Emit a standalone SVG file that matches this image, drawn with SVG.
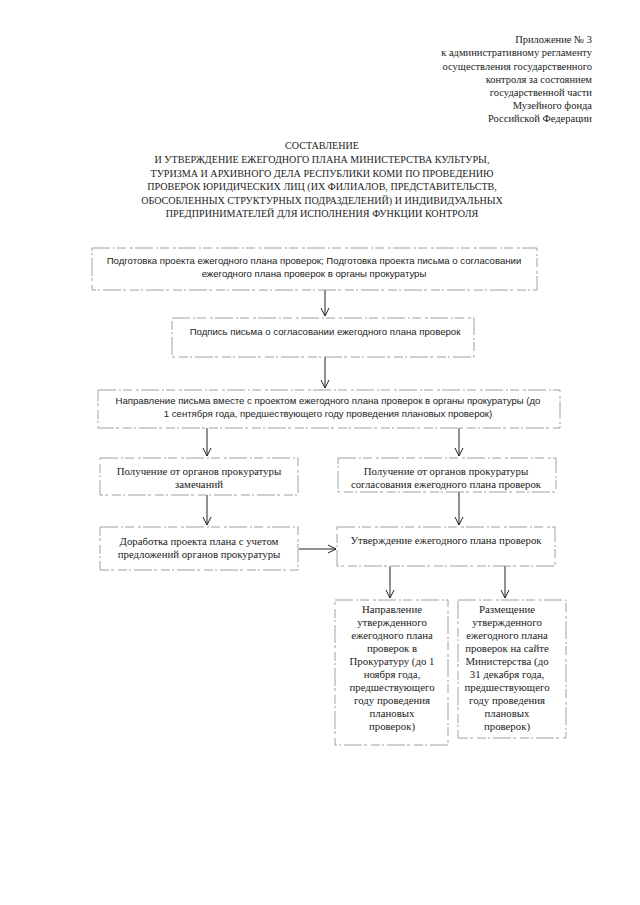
<svg xmlns="http://www.w3.org/2000/svg" width="640" height="905" viewBox="0 0 640 905">
<defs>
<style>
.hdr{font-family:"Liberation Serif","Times New Roman",serif;font-size:10.5px;fill:#222;text-anchor:end}
.ttl{font-family:"Liberation Serif","Times New Roman",serif;font-size:10.1px;fill:#222;text-anchor:middle}
.sans{font-family:"Liberation Sans",Arial,sans-serif;font-size:9.6px;fill:#222;text-anchor:middle}
.ser{font-family:"Liberation Serif","Times New Roman",serif;font-size:10.8px;fill:#222;text-anchor:middle}
.box{fill:none;stroke:#888;stroke-width:0.8;stroke-dasharray:18 3 2 2 9 4 3 2}
.con{fill:none;stroke:#222;stroke-width:1}
</style>
<marker id="arr" viewBox="-9 -5 10 10" refX="0" refY="0" markerWidth="10" markerHeight="10" markerUnits="userSpaceOnUse" orient="auto">
<path d="M-8,-4 L0,0 L-8,4" fill="none" stroke="#222" stroke-width="1"/>
</marker>
</defs>
<rect width="640" height="905" fill="#fff"/>
<g id="header">
<text class="hdr" x="592" y="43">Приложение № 3</text>
<text class="hdr" x="592" y="56">к административному регламенту</text>
<text class="hdr" x="592" y="70">осуществления государственного</text>
<text class="hdr" x="592" y="83">контроля за состоянием</text>
<text class="hdr" x="592" y="96">государственной части</text>
<text class="hdr" x="592" y="109">Музейного фонда</text>
<text class="hdr" x="592" y="122">Российской Федерации</text>
</g>
<g id="title">
<text class="ttl" x="322" y="149">СОСТАВЛЕНИЕ</text>
<text class="ttl" x="322" y="163">И УТВЕРЖДЕНИЕ ЕЖЕГОДНОГО ПЛАНА МИНИСТЕРСТВА КУЛЬТУРЫ,</text>
<text class="ttl" x="322" y="177">ТУРИЗМА И АРХИВНОГО ДЕЛА РЕСПУБЛИКИ КОМИ ПО ПРОВЕДЕНИЮ</text>
<text class="ttl" x="322" y="190">ПРОВЕРОК ЮРИДИЧЕСКИХ ЛИЦ (ИХ ФИЛИАЛОВ, ПРЕДСТАВИТЕЛЬСТВ,</text>
<text class="ttl" x="322" y="204">ОБОСОБЛЕННЫХ СТРУКТУРНЫХ ПОДРАЗДЕЛЕНИЙ) И ИНДИВИДУАЛЬНЫХ</text>
<text class="ttl" x="322" y="217">ПРЕДПРИНИМАТЕЛЕЙ ДЛЯ ИСПОЛНЕНИЯ ФУНКЦИИ КОНТРОЛЯ</text>
</g>
<g id="connectors">
<line class="con" x1="325" y1="290" x2="325" y2="316" marker-end="url(#arr)"/>
<line class="con" x1="325" y1="357" x2="325" y2="388" marker-end="url(#arr)"/>
<line class="con" x1="207" y1="428" x2="207" y2="456" marker-end="url(#arr)"/>
<line class="con" x1="459" y1="428" x2="459" y2="456" marker-end="url(#arr)"/>
<line class="con" x1="207" y1="495" x2="207" y2="525" marker-end="url(#arr)"/>
<line class="con" x1="459" y1="492" x2="459" y2="525" marker-end="url(#arr)"/>
<line class="con" x1="299" y1="549" x2="336" y2="549" marker-end="url(#arr)"/>
<line class="con" x1="390" y1="566" x2="390" y2="598" marker-end="url(#arr)"/>
<line class="con" x1="505" y1="566" x2="505" y2="598" marker-end="url(#arr)"/>
</g>
<g id="n1">
<rect class="box" x="92" y="248" width="445" height="42"/>
<text class="sans" x="314" y="264">Подготовка проекта ежегодного плана проверок; Подготовка проекта письма о согласовании</text>
<text class="sans" x="314" y="277">ежегодного плана проверок в органы прокуратуры</text>
</g>
<g id="n2">
<rect class="box" x="172" y="318" width="302" height="39"/>
<text class="sans" x="325" y="335">Подпись письма о согласовании ежегодного плана проверок</text>
</g>
<g id="n3">
<rect class="box" x="98" y="390" width="462" height="38"/>
<text class="sans" x="328" y="404">Направление письма вместе с проектом ежегодного плана проверок в органы прокуратуры (до</text>
<text class="sans" x="328" y="417">1 сентября года, предшествующего году проведения плановых проверок)</text>
</g>
<g id="n4">
<rect class="box" x="100" y="458" width="198" height="37"/>
<text class="ser" x="199" y="475">Получение от органов прокуратуры</text>
<text class="ser" x="199" y="488">замечаний</text>
</g>
<g id="n5">
<rect class="box" x="338" y="458" width="218" height="34"/>
<text class="ser" x="446" y="475">Получение от органов прокуратуры</text>
<text class="ser" x="446" y="488">согласования ежегодного плана проверок</text>
</g>
<g id="n6">
<rect class="box" x="100" y="527" width="198" height="43"/>
<text class="ser" x="199" y="545">Доработка проекта плана с учетом</text>
<text class="ser" x="199" y="558">предложений органов прокуратуры</text>
</g>
<g id="n7">
<rect class="box" x="337" y="527" width="218" height="39"/>
<text class="ser" x="446" y="544">Утверждение ежегодного плана проверок</text>
</g>
<g id="n8">
<rect class="box" x="335" y="600" width="113" height="145"/>
<text class="ser" x="392" y="613">Направление</text>
<text class="ser" x="392" y="626">утвержденного</text>
<text class="ser" x="392" y="639">ежегодного плана</text>
<text class="ser" x="392" y="652">проверок в</text>
<text class="ser" x="392" y="665">Прокуратуру (до 1</text>
<text class="ser" x="392" y="678">ноября года,</text>
<text class="ser" x="392" y="691">предшествующего</text>
<text class="ser" x="392" y="704">году проведения</text>
<text class="ser" x="392" y="717">плановых</text>
<text class="ser" x="392" y="730">проверок)</text>
</g>
<g id="n9">
<rect class="box" x="458" y="600" width="108" height="138"/>
<text class="ser" x="507" y="613">Размещение</text>
<text class="ser" x="507" y="626">утвержденного</text>
<text class="ser" x="507" y="639">ежегодного плана</text>
<text class="ser" x="507" y="652">проверок на сайте</text>
<text class="ser" x="507" y="665">Министерства (до</text>
<text class="ser" x="507" y="678">31 декабря года,</text>
<text class="ser" x="507" y="691">предшествующего</text>
<text class="ser" x="507" y="704">году проведения</text>
<text class="ser" x="507" y="717">плановых</text>
<text class="ser" x="507" y="730">проверок)</text>
</g>
</svg>
